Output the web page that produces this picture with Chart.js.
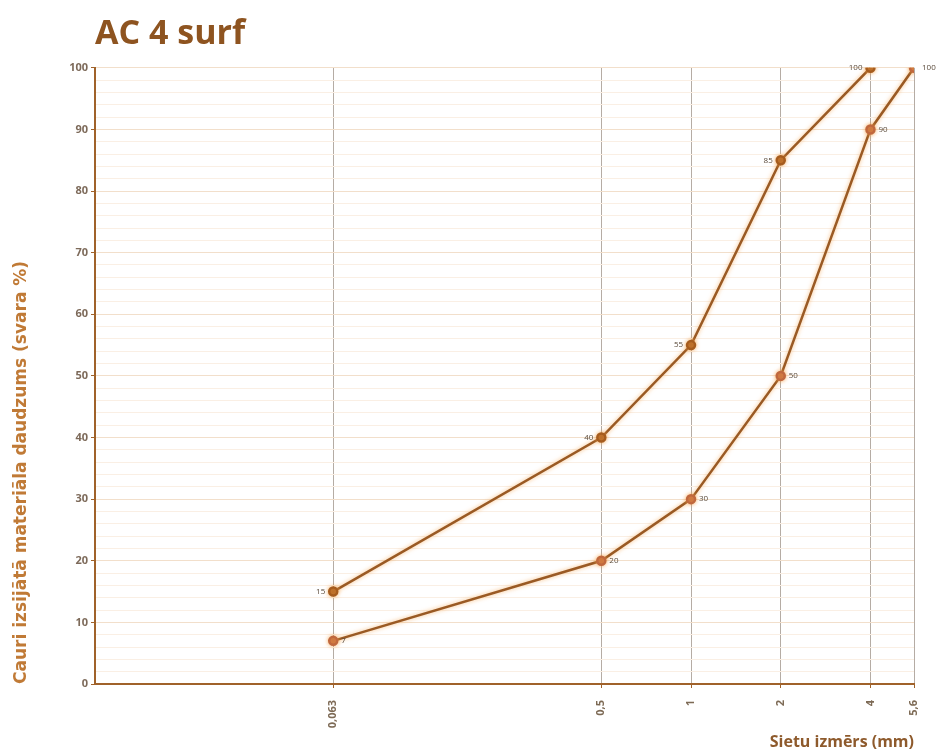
<!DOCTYPE html>
<html lang="lv">
<head>
    <meta charset="UTF-8">
    <title>AC 4 surf</title>
    <style>
        html, body { margin: 0; padding: 0; background: #fff; }
        #wrap { width: 945px; height: 753px; }
    </style>
</head>
<body>
    <div id="wrap"><canvas id="myChart" width="945" height="753"></canvas></div>

    <script src="https://cdn.jsdelivr.net/npm/chart.js@4.4.0/dist/chart.umd.min.js"></script>
    <script>
        // sieve sizes (mm) and passing percentages
        var sieveSizes = [0.063, 0.5, 1, 2, 4, 5.6];
        var upperLimit = [15, 40, 55, 85, 100];
        var lowerLimit = [7, 20, 30, 50, 90, 100];
        var xTicks = [0.063, 0.5, 1, 2, 4, 5.6];

        function toPoints(vals) {
            return vals.map(function (v, i) { return { x: sieveSizes[i], y: v }; });
        }

        // soft orange glow round the lines, like the original
        var glow = {
            id: 'glow',
            beforeDatasetDraw: function (chart) {
                chart.ctx.save();
                chart.ctx.shadowColor = 'rgba(245,160,70,0.7)';
                chart.ctx.shadowBlur = 4;
            },
            afterDatasetDraw: function (chart) {
                chart.ctx.restore();
            }
        };

        // small value labels next to each point
        var pointLabels = {
            id: 'pointLabels',
            afterDatasetsDraw: function (chart) {
                var ctx = chart.ctx;
                ctx.save();
                ctx.font = '8px "Open Sans"';
                ctx.fillStyle = '#5a4a3a';
                ctx.textBaseline = 'middle';
                chart.data.datasets.forEach(function (ds, di) {
                    var meta = chart.getDatasetMeta(di);
                    meta.data.forEach(function (pt, i) {
                        var v = ds.data[i].y;
                        if (ds.labelSide === 'left') {
                            ctx.textAlign = 'right';
                            ctx.fillText(v, pt.x - 8, pt.y);
                        } else {
                            ctx.textAlign = 'left';
                            ctx.fillText(v, pt.x + 8, pt.y);
                        }
                    });
                });
                ctx.restore();
            }
        };

        var ctx = document.getElementById('myChart').getContext('2d');
        var chart = new Chart(ctx, {
            type: 'line',
            data: {
                datasets: [
                    {
                        data: toPoints(upperLimit),
                        labelSide: 'left',
                        borderColor: '#9a5a24',
                        borderWidth: 2.5,
                        pointBackgroundColor: '#a65c1e',
                        pointBorderColor: '#a65c1e',
                        pointRadius: 4,
                        tension: 0
                    },
                    {
                        data: toPoints(lowerLimit),
                        labelSide: 'right',
                        borderColor: '#9a5a24',
                        borderWidth: 2.5,
                        pointBackgroundColor: '#c0683e',
                        pointBorderColor: '#c0683e',
                        pointRadius: 4,
                        tension: 0
                    }
                ]
            },
            options: {
                responsive: false,
                animation: false,
                layout: { padding: { left: 0, right: 31, top: 0, bottom: 0 } },
                plugins: {
                    legend: { display: false },
                    tooltip: { enabled: false },
                    title: {
                        display: true,
                        text: 'AC 4 surf',
                        align: 'start',
                        fullSize: false,
                        color: '#8e5420',
                        font: { family: 'Open Sans', size: 34, weight: 'bold' },
                        padding: { top: 14, bottom: 13 }
                    }
                },
                scales: {
                    x: {
                        type: 'logarithmic',
                        min: 0.01,
                        max: 5.6,
                        afterBuildTicks: function (scale) {
                            scale.ticks = xTicks.map(function (v) { return { value: v }; });
                        },
                        afterFit: function (scale) { scale.height = 69; },
                        border: { color: '#a0622a', width: 2 },
                        grid: { color: '#b5aca4', lineWidth: 1, tickLength: 4, tickColor: '#a0622a' },
                        ticks: {
                            minRotation: 90,
                            maxRotation: 90,
                            autoSkip: false,
                            padding: 12,
                            color: '#7d6a55',
                            font: { family: 'Open Sans', size: 11, weight: 'bold' },
                            callback: function (v) { return String(v).replace('.', ','); }
                        },
                        title: {
                            display: true,
                            text: 'Sietu izmērs (mm)',
                            align: 'end',
                            color: '#8e5a2c',
                            font: { family: 'Open Sans', size: 16, weight: 'bold' },
                            padding: { top: 0, bottom: 1 }
                        }
                    },
                    y: {
                        min: 0,
                        max: 100,
                        afterFit: function (scale) { scale.width = 95; },
                        border: { color: '#a0622a', width: 2 },
                        grid: {
                            color: function (c) {
                                return c.tick.value % 10 === 0 ? '#f2dfcb' : '#faefe4';
                            },
                            tickLength: 4,
                            tickColor: function (c) {
                                return c.tick.value % 10 === 0 ? '#a0622a' : 'rgba(0,0,0,0)';
                            }
                        },
                        ticks: {
                            stepSize: 2,
                            autoSkip: false,
                            color: '#7d6a5a',
                            font: { family: 'Open Sans', size: 11, weight: 'bold' },
                            callback: function (v) { return v % 10 === 0 ? v : ''; }
                        },
                        title: {
                            display: true,
                            text: 'Cauri izsijātā materiāla daudzums (svara %)',
                            align: 'start',
                            color: '#c07a36',
                            font: { family: 'DejaVu Sans', size: 17, weight: 'bold' },
                            padding: { top: 11, bottom: 0 }
                        }
                    }
                }
            },
            plugins: [glow, pointLabels]
        });
    </script>
</body>
</html>
